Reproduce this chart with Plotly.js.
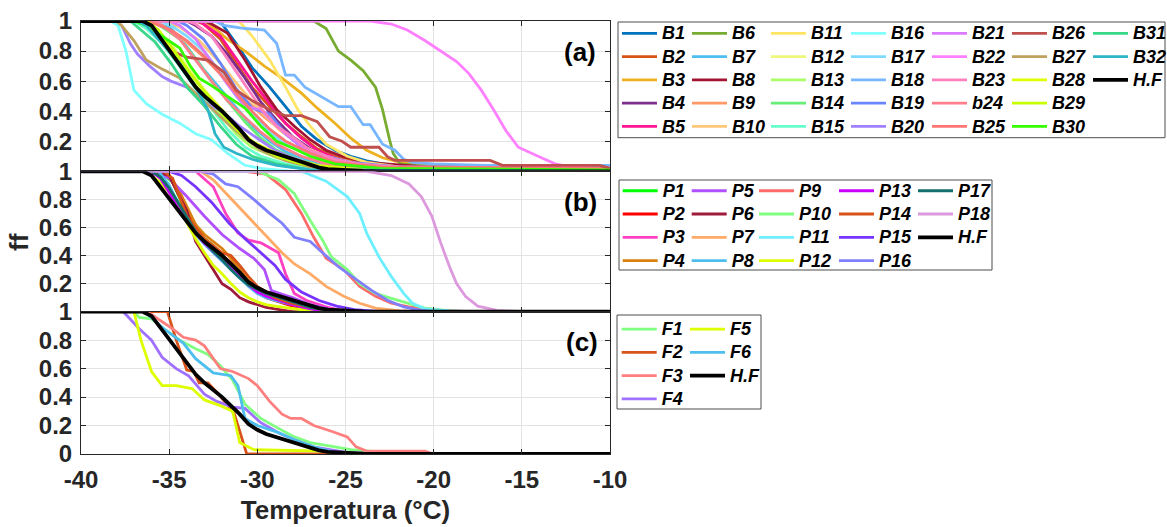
<!DOCTYPE html>
<html>
<head>
<meta charset="utf-8">
<script src="https://cdn.plot.ly/plotly-3.0.1.min.js"></script>
<style>
  html, body { margin: 0; padding: 0; background: #fff; }
  #chart { width: 1167px; height: 527px; }
</style>
</head>
<body>
<div id="chart"></div>
<script>
// Frozen fraction (ff) against temperature (°C), three stacked panels.
// Each series is a list of [temperature, ff] points.

const xTickValues = [-40, -35, -30, -25, -20, -15, -10];
const xTickLabels = ['-40', '-35', '-30', '-25', '-20', '-15', '-10'];

// Whole-set curve shown in every panel
const HF = [[-40,1],[-36.5,1],[-36,0.97],[-35.5,0.89],[-35,0.8],[-34.5,0.72],[-34,0.64],[-33.5,0.56],[-33,0.5],[-32.5,0.45],[-32,0.4],[-31.5,0.34],[-31,0.28],[-30.5,0.21],[-30,0.17],[-29.5,0.14],[-29,0.12],[-28.5,0.1],[-28,0.08],[-27.5,0.06],[-27,0.04],[-26.5,0.025],[-26,0.015],[-25,0.007],[-24,0.002],[-23,0],[-10,0]];

// Panel (a)
const B1  = [[-40,1],[-32.2,1],[-32,0.98],[-31.2,0.85],[-30.3,0.69],[-29.3,0.56],[-28.4,0.43],[-27.5,0.3],[-26.6,0.21],[-25.6,0.14],[-24.7,0.1],[-23.8,0.07],[-22.4,0.04],[-21,0.02],[-18,0.01],[-10,0.01]];
const B2  = [[-40,1],[-33.5,1],[-33.05,0.98],[-32.1,0.88],[-31.2,0.72],[-30.3,0.56],[-29.3,0.43],[-28.4,0.32],[-27.5,0.23],[-26.6,0.15],[-25.6,0.1],[-24.3,0.06],[-22.9,0.04],[-21,0.02],[-10,0.01]];
const B3  = [[-40,1],[-33,1],[-32.4,0.95],[-31.7,0.88],[-30.7,0.8],[-29.6,0.7],[-28.6,0.62],[-27.5,0.52],[-26.6,0.42],[-25.6,0.32],[-24.7,0.22],[-23.8,0.14],[-22.9,0.09],[-21.9,0.06],[-20,0.04],[-10,0.02]];
const B4  = [[-40,1],[-34,1],[-33.5,0.97],[-32.6,0.9],[-31.7,0.78],[-30.7,0.62],[-29.8,0.46],[-28.9,0.34],[-28,0.23],[-27,0.15],[-26,0.09],[-25,0.05],[-23.5,0.03],[-21,0.01],[-10,0.01]];
const B5  = [[-40,1],[-33.3,1],[-33.05,0.98],[-32.1,0.9],[-31.2,0.75],[-30.3,0.6],[-29.3,0.45],[-28.4,0.32],[-27.5,0.22],[-26.6,0.14],[-25.6,0.09],[-24.5,0.05],[-23,0.03],[-21,0.01],[-10,0.01]];
const B6  = [[-40,1],[-26.8,1],[-26.1,0.95],[-25.4,0.8],[-24.7,0.74],[-24,0.67],[-23.3,0.56],[-22.9,0.41],[-22.5,0.21],[-22.3,0.12],[-21.9,0.05],[-21,0.04],[-18,0.03],[-10,0.02]];
const B7  = [[-40,1],[-36,1],[-34.9,0.95],[-34,0.83],[-33.05,0.68],[-32.1,0.55],[-31.2,0.42],[-30.3,0.3],[-29.3,0.2],[-28.4,0.13],[-27,0.07],[-25.6,0.04],[-24,0.02],[-10,0.01]];
const B8  = [[-40,1],[-33,1],[-32.6,0.98],[-31.7,0.92],[-30.7,0.74],[-29.8,0.56],[-28.9,0.41],[-27.9,0.3],[-27,0.21],[-26.1,0.14],[-25.2,0.1],[-23.8,0.06],[-20.5,0.03],[-10,0.02]];
const B9  = [[-40,1],[-36,1],[-35.4,0.97],[-34.2,0.88],[-33.05,0.76],[-31.9,0.62],[-30.7,0.48],[-29.6,0.36],[-28.4,0.25],[-27.3,0.16],[-26.1,0.1],[-24.3,0.05],[-22,0.02],[-10,0.01]];
const B10 = [[-40,1],[-35.5,1],[-34.4,0.96],[-33.3,0.87],[-32.1,0.72],[-31,0.56],[-29.8,0.4],[-28.7,0.27],[-27.5,0.17],[-26.1,0.1],[-24.3,0.05],[-22,0.02],[-10,0.01]];
const B11 = [[-40,1],[-31.2,1],[-30.97,0.99],[-30.3,0.9],[-29.3,0.74],[-28.4,0.56],[-27.7,0.41],[-27,0.3],[-26.1,0.18],[-24.9,0.1],[-23.8,0.06],[-22,0.03],[-10,0.02]];
const B12 = [[-40,1],[-36.3,1],[-35.8,0.95],[-34.9,0.85],[-34,0.7],[-33.05,0.55],[-32.1,0.42],[-31.2,0.3],[-30.3,0.2],[-29.3,0.12],[-28,0.06],[-26,0.02],[-24,0],[-10,0]];
const B13 = [[-40,1],[-36.5,1],[-35.8,0.95],[-34.9,0.82],[-34,0.65],[-33.05,0.5],[-32.1,0.38],[-31.2,0.25],[-30.3,0.16],[-28.9,0.09],[-27.5,0.05],[-25,0.01],[-10,0]];
const B14 = [[-40,1],[-36,1],[-35.4,0.96],[-34.4,0.88],[-33.5,0.75],[-32.6,0.6],[-31.7,0.47],[-30.7,0.33],[-29.8,0.22],[-28.9,0.14],[-27.5,0.07],[-26.1,0.03],[-24,0.01],[-10,0]];
const B15 = [[-40,1],[-37,1],[-36.3,0.95],[-35.4,0.85],[-34.4,0.7],[-33.5,0.55],[-32.6,0.42],[-31.7,0.28],[-30.7,0.16],[-29.8,0.1],[-28.4,0.05],[-26,0.01],[-10,0]];
const B16 = [[-40,1],[-38.3,1],[-37.9,0.97],[-37.45,0.8],[-37,0.54],[-36.3,0.45],[-35.4,0.38],[-34.4,0.32],[-33.5,0.25],[-32.6,0.21],[-31.7,0.12],[-30.7,0.04],[-29.8,0.02],[-28,0],[-10,0]];
const B17 = [[-40,1],[-35.5,1],[-34.9,0.97],[-34,0.9],[-33.05,0.8],[-32.1,0.66],[-31.2,0.5],[-30.3,0.38],[-29.3,0.26],[-28.4,0.18],[-27,0.1],[-25.6,0.05],[-23,0.02],[-10,0.01]];
const B18 = [[-40,1],[-32.4,1],[-31.9,0.97],[-30.7,0.95],[-29.6,0.94],[-28.9,0.85],[-28.4,0.64],[-27.9,0.64],[-27.3,0.56],[-26.3,0.49],[-25.4,0.43],[-24.7,0.43],[-24,0.31],[-23.6,0.31],[-22.9,0.18],[-22.2,0.14],[-21.7,0.08],[-21.2,0.06],[-20,0.05],[-17,0.04],[-10,0.04]];
const B19 = [[-40,1],[-34.5,1],[-34,0.97],[-33.05,0.88],[-32.1,0.72],[-31.2,0.55],[-30.3,0.42],[-29.3,0.38],[-28.4,0.25],[-27.5,0.16],[-26.1,0.1],[-24.7,0.06],[-22,0.03],[-10,0.02]];
const B20 = [[-40,1],[-38,1],[-37.7,0.97],[-37.2,0.85],[-36.8,0.78],[-36.1,0.7],[-35.4,0.63],[-34.9,0.6],[-34,0.56],[-33,0.46],[-32,0.4],[-31,0.3],[-30,0.22],[-29,0.14],[-28,0.09],[-27,0.05],[-26,0.03],[-24,0.01],[-10,0]];
const B21 = [[-40,1],[-35,1],[-34.4,0.97],[-33.5,0.88],[-32.6,0.73],[-31.7,0.58],[-30.7,0.43],[-29.8,0.41],[-28.9,0.3],[-27.9,0.2],[-27,0.12],[-25.6,0.07],[-23,0.03],[-10,0.02]];
const B22 = [[-40,1],[-23.6,1],[-22.4,0.98],[-21.5,0.94],[-20.5,0.87],[-19.6,0.8],[-18.7,0.73],[-18,0.65],[-17.3,0.54],[-16.6,0.41],[-15.9,0.27],[-15.2,0.16],[-14.5,0.12],[-13.8,0.085],[-13.1,0.05],[-12.7,0.04],[-12,0.03],[-11,0.02],[-10,0.02]];
const B23 = [[-40,1],[-34,1],[-33.5,0.98],[-32.6,0.9],[-31.7,0.75],[-30.7,0.58],[-29.8,0.42],[-28.9,0.3],[-27.9,0.22],[-27,0.14],[-25.6,0.08],[-24.3,0.05],[-21,0.02],[-10,0.01]];
const b24 = [[-40,1],[-36,1],[-35.4,0.97],[-34.4,0.88],[-33.5,0.74],[-32.6,0.6],[-31.7,0.47],[-30.7,0.36],[-29.8,0.26],[-28.9,0.18],[-27.5,0.1],[-26.1,0.05],[-23,0.02],[-10,0.01]];
const B25 = [[-40,1],[-36.3,1],[-35.8,0.98],[-34.9,0.94],[-34,0.87],[-33.05,0.77],[-32.1,0.65],[-31.2,0.52],[-30.3,0.4],[-29.3,0.28],[-28.4,0.2],[-27,0.12],[-25.6,0.06],[-23,0.03],[-10,0.02]];
const B26 = [[-40,1],[-36.5,1],[-35.8,0.95],[-34.9,0.8],[-34,0.76],[-32.8,0.74],[-31.9,0.66],[-31.2,0.54],[-30.3,0.47],[-29.3,0.41],[-28.4,0.37],[-27.5,0.37],[-26.6,0.33],[-25.9,0.23],[-25.2,0.2],[-24.7,0.16],[-23.1,0.16],[-22.6,0.095],[-22.2,0.073],[-16.8,0.073],[-16.1,0.04],[-10.6,0.04],[-10,0.02]];
const B27 = [[-40,1],[-38,1],[-37.7,0.97],[-37,0.87],[-36.3,0.74],[-35.4,0.68],[-34.4,0.62],[-33.5,0.52],[-32.6,0.42],[-31.7,0.32],[-30.7,0.22],[-29.8,0.14],[-28.4,0.07],[-27,0.03],[-25,0.01],[-10,0]];
const B28 = [[-40,1],[-36.5,1],[-35.8,0.95],[-34.9,0.83],[-34,0.68],[-33.05,0.54],[-32.1,0.42],[-31.2,0.3],[-30.3,0.2],[-29.3,0.14],[-28,0.08],[-26.6,0.04],[-24,0.01],[-10,0]];
const B29 = [[-40,1],[-36.3,1],[-35.6,0.94],[-34.7,0.8],[-33.8,0.65],[-32.8,0.5],[-31.9,0.37],[-31,0.26],[-30,0.17],[-28.9,0.1],[-27.5,0.05],[-25,0.01],[-10,0]];
const B30 = [[-40,1],[-37,1],[-36.3,0.97],[-35.4,0.9],[-34.4,0.82],[-33.8,0.7],[-33.3,0.62],[-32.6,0.57],[-31.7,0.5],[-30.7,0.42],[-29.8,0.3],[-28.9,0.2],[-27.9,0.15],[-27,0.1],[-25.6,0.05],[-23,0.02],[-10,0.01]];
const B31 = [[-40,1],[-37.2,1],[-36.8,0.96],[-35.8,0.86],[-34.9,0.72],[-34,0.56],[-33.05,0.44],[-32.1,0.3],[-31.2,0.18],[-30.3,0.1],[-28.9,0.05],[-27,0.01],[-10,0]];
const B32 = [[-40,1],[-36.8,1],[-36.3,0.97],[-35.4,0.85],[-34.4,0.72],[-33.5,0.56],[-32.8,0.41],[-32.4,0.25],[-31.9,0.16],[-31.2,0.12],[-30.3,0.08],[-28.9,0.04],[-27,0.01],[-10,0]];

// Panel (b)
const P1  = [[-40,1],[-35.5,1],[-34.8,0.92],[-34.3,0.78],[-34,0.68],[-33.5,0.58],[-33,0.52],[-32.5,0.47],[-32,0.4],[-31.5,0.33],[-31,0.26],[-30.5,0.19],[-30,0.14],[-29.5,0.11],[-29,0.09],[-28,0.05],[-27,0.02],[-26,0],[-10,0]];
const P2  = [[-40,1],[-35.5,1],[-35,0.97],[-34.5,0.85],[-34,0.72],[-33.5,0.62],[-33,0.5],[-32.5,0.45],[-32,0.4],[-31.5,0.35],[-31,0.3],[-30.5,0.2],[-30,0.14],[-29.5,0.1],[-29,0.08],[-28.5,0.06],[-28,0.04],[-27,0.02],[-26,0],[-10,0]];
const P3  = [[-40,1],[-33.5,1],[-32.5,0.89],[-31.8,0.7],[-31.1,0.56],[-30.5,0.51],[-29.8,0.49],[-28.8,0.42],[-28.4,0.27],[-27.9,0.13],[-27.2,0.08],[-26.1,0.035],[-25,0],[-10,0]];
const P4  = [[-40,1],[-35.2,1],[-34.5,0.88],[-34,0.75],[-33.5,0.62],[-33,0.55],[-32.5,0.5],[-32,0.45],[-31.5,0.38],[-31,0.3],[-30.5,0.22],[-30,0.16],[-29.5,0.13],[-29,0.1],[-28,0.06],[-27,0.03],[-26,0.01],[-25,0],[-10,0]];
const P5  = [[-40,1],[-36,1],[-35,0.95],[-34,0.82],[-33,0.68],[-32,0.55],[-31,0.45],[-30.2,0.38],[-29.6,0.3],[-29.2,0.15],[-28.5,0.12],[-28,0.1],[-27,0.05],[-26,0.02],[-25,0],[-10,0]];
const P6  = [[-40,1],[-36,1],[-35,0.97],[-34.5,0.85],[-34,0.72],[-33.5,0.5],[-33,0.4],[-32.5,0.3],[-32,0.2],[-31.5,0.16],[-31,0.1],[-30.5,0.07],[-30,0.05],[-29.5,0.03],[-28.5,0.01],[-28,0],[-10,0]];
const P7  = [[-40,1],[-33.2,1],[-32.5,0.94],[-31.6,0.82],[-30.7,0.7],[-30,0.6],[-29.3,0.51],[-28.6,0.42],[-27.9,0.34],[-27,0.27],[-26.1,0.18],[-25.1,0.11],[-24.2,0.06],[-23.3,0.025],[-21.9,0.005],[-21,0],[-10,0]];
const P8  = [[-40,1],[-35.6,1],[-35,0.9],[-34.5,0.78],[-34,0.65],[-33.5,0.55],[-33,0.48],[-32.5,0.42],[-32,0.36],[-31.5,0.3],[-31,0.24],[-30.5,0.18],[-30,0.13],[-29.5,0.1],[-29,0.08],[-28,0.05],[-27,0.02],[-26,0.005],[-25,0],[-10,0]];
const P9  = [[-40,1],[-30.7,1],[-29.5,0.98],[-28.4,0.87],[-27.5,0.7],[-26.8,0.53],[-26.1,0.38],[-25.1,0.3],[-24.2,0.18],[-23.3,0.11],[-22.4,0.06],[-21.4,0.035],[-19.6,0.01],[-18,0],[-10,0]];
const P10 = [[-40,1],[-30,1],[-28.8,0.94],[-27.9,0.84],[-27,0.65],[-26.3,0.51],[-25.8,0.39],[-24.9,0.3],[-24.2,0.2],[-23.3,0.13],[-22.4,0.095],[-21.4,0.06],[-20.5,0.025],[-19.1,0.005],[-18,0],[-10,0]];
const P11 = [[-40,1],[-27.5,1],[-26.1,0.93],[-24.9,0.82],[-24.2,0.7],[-23.8,0.56],[-23.1,0.39],[-22.4,0.25],[-21.7,0.13],[-21.2,0.06],[-20.5,0.02],[-19.1,0.005],[-18,0],[-10,0]];
const P12 = [[-40,1],[-36.3,1],[-35.5,0.92],[-35,0.85],[-34.5,0.75],[-34,0.63],[-33.5,0.52],[-33,0.42],[-32.5,0.33],[-32,0.27],[-31.5,0.2],[-31,0.14],[-30.5,0.1],[-30,0.07],[-29.5,0.05],[-29,0.04],[-28,0.02],[-27,0.005],[-26,0],[-10,0]];
const P13 = [[-40,1],[-36,1],[-35.5,0.95],[-35,0.85],[-34.5,0.74],[-34,0.65],[-33.5,0.56],[-33,0.49],[-32.5,0.43],[-32,0.37],[-31.5,0.31],[-31,0.25],[-30.5,0.19],[-30,0.14],[-29.5,0.11],[-29,0.09],[-28,0.05],[-27,0.02],[-26,0],[-10,0]];
const P14 = [[-40,1],[-35.3,1],[-34.8,0.95],[-34.5,0.85],[-34,0.68],[-33.5,0.6],[-33,0.52],[-32.5,0.47],[-32,0.42],[-31.5,0.4],[-31,0.33],[-30.5,0.25],[-30,0.18],[-29.5,0.14],[-29,0.1],[-28,0.06],[-27,0.03],[-26,0.01],[-25,0],[-10,0]];
const P15 = [[-40,1],[-35,1],[-34.3,0.97],[-33.5,0.89],[-32.6,0.78],[-31.6,0.63],[-30.7,0.52],[-29.8,0.42],[-29,0.33],[-28.4,0.23],[-27.5,0.14],[-26.5,0.08],[-25.5,0.04],[-24.5,0.015],[-23,0],[-10,0]];
const P16 = [[-40,1],[-33.2,1],[-32.5,0.98],[-31.8,0.91],[-31.1,0.89],[-30.2,0.8],[-29.3,0.7],[-28.6,0.63],[-27.9,0.53],[-27,0.5],[-26.3,0.42],[-25.4,0.32],[-24.4,0.23],[-23.5,0.15],[-22.6,0.08],[-21.7,0.035],[-20.7,0.01],[-20,0],[-10,0]];
const P17 = [[-40,1],[-36,1],[-35.5,0.96],[-35,0.88],[-34.5,0.78],[-34,0.67],[-33.5,0.57],[-33,0.5],[-32.5,0.43],[-32,0.37],[-31.5,0.3],[-31,0.24],[-30.5,0.19],[-30,0.16],[-29.5,0.13],[-29,0.11],[-28.5,0.09],[-28,0.07],[-27.5,0.05],[-27,0.03],[-26.5,0.02],[-26,0.01],[-25,0],[-10,0]];
const P18 = [[-40,1],[-23.8,1],[-22.4,0.97],[-21.4,0.91],[-20.7,0.82],[-20.1,0.68],[-19.6,0.49],[-19.1,0.32],[-18.7,0.2],[-18.2,0.11],[-17.5,0.04],[-16.4,0.01],[-15,0],[-10,0]];

// Panel (c)
const F1 = [[-40,1],[-37,1],[-36.7,0.96],[-36,0.95],[-35.3,0.88],[-34.4,0.8],[-33.5,0.74],[-32.8,0.7],[-32.1,0.62],[-31.4,0.52],[-30.7,0.35],[-29.8,0.25],[-28.8,0.18],[-27.9,0.12],[-27,0.08],[-26.1,0.06],[-24.7,0.03],[-22.6,0.01],[-19.1,0],[-10,0]];
const F2 = [[-40,1],[-36.5,1],[-35.1,1],[-34.6,0.8],[-34,0.59],[-33.6,0.58],[-33.3,0.5],[-32.8,0.5],[-32.2,0.42],[-31.6,0.33],[-31.3,0.28],[-30.6,0],[-10,0]];
const F3 = [[-40,1],[-36.3,1],[-36,0.98],[-34.8,0.88],[-34.2,0.82],[-33.5,0.8],[-33,0.76],[-32.1,0.6],[-31.4,0.58],[-30.5,0.53],[-30,0.48],[-29.3,0.37],[-28.6,0.28],[-28.1,0.25],[-27.5,0.25],[-26.8,0.2],[-25.8,0.16],[-24.9,0.12],[-24.4,0.05],[-23.8,0.02],[-20.5,0.02],[-20,0],[-10,0]];
const F4 = [[-40,1],[-37.6,1],[-36.7,0.88],[-36,0.8],[-35.4,0.68],[-34.6,0.6],[-33.9,0.55],[-33,0.42],[-32.3,0.37],[-31.4,0.33],[-30.7,0.32],[-29.8,0.22],[-28.8,0.15],[-27.9,0.1],[-26.8,0.05],[-24.9,0.01],[-23,0],[-10,0]];
const F5 = [[-40,1],[-37,1],[-36.6,0.8],[-36,0.58],[-35.4,0.48],[-34.6,0.48],[-33.7,0.46],[-33,0.38],[-32.1,0.34],[-31.4,0.3],[-31,0.08],[-30.2,0.03],[-26.1,0.02],[-25.4,0],[-10,0]];
const F6 = [[-40,1],[-36.4,1],[-35.3,0.88],[-34.2,0.78],[-33.5,0.67],[-32.5,0.57],[-31.5,0.55],[-31.1,0.48],[-30.7,0.25],[-30,0.2],[-28.8,0.15],[-27.9,0.1],[-26.8,0.05],[-25.6,0.01],[-24,0],[-10,0]];

// Series names per panel, arranged by legend column
const namesA = [['B1','B2','B3','B4','B5'],['B6','B7','B8','B9','B10'],['B11','B12','B13','B14','B15'],
                ['B16','B17','B18','B19','B20'],['B21','B22','B23','b24','B25'],['B26','B27','B28','B29','B30'],['B31','B32','H.F']];
const namesB = [['P1','P2','P3','P4'],['P5','P6','P7','P8'],['P9','P10','P11','P12'],['P13','P14','P15','P16'],['P17','P18','H.F']];
const namesC = [['F1','F2','F3','F4'],['F5','F6','H.F']];

const seriesData = {
  B1,B2,B3,B4,B5,B6,B7,B8,B9,B10,B11,B12,B13,B14,B15,B16,B17,B18,B19,B20,B21,B22,B23,b24,B25,B26,B27,B28,B29,B30,B31,B32,
  P1,P2,P3,P4,P5,P6,P7,P8,P9,P10,P11,P12,P13,P14,P15,P16,P17,P18,
  F1,F2,F3,F4,F5,F6, 'H.F': HF
};

// ---- styling ----
const colorsA = {
  B1:'#0072BD', B2:'#D95319', B3:'#EDB120', B4:'#7E2F8E', B5:'#FF1493',
  B6:'#77AC30', B7:'#4DBEEE', B8:'#A2142F', B9:'#FF9966', B10:'#FFC878',
  B11:'#FFE566', B12:'#EEF77C', B13:'#AAFF66', B14:'#66EE77', B15:'#66FFCC',
  B16:'#80FFFF', B17:'#80DAFF', B18:'#78B6FF', B19:'#6A86FF', B20:'#A080FF',
  B21:'#DA7BFF', B22:'#FF80FF', B23:'#FF80BF', b24:'#FF7F8C', B25:'#FF7675',
  B26:'#C0504D', B27:'#BFA15F', B28:'#DDFF00', B29:'#C5FF00', B30:'#33FF00',
  B31:'#39D78A', B32:'#2DB5C8', 'H.F':'#000000'
};
const colorsB = {
  P1:'#00FF00', P2:'#FF0000', P3:'#FF40C0', P4:'#D9820F', P5:'#B050FF', P6:'#A01B3A',
  P7:'#FFAA66', P8:'#4DBEEE', P9:'#FF6B6B', P10:'#80FF80', P11:'#6EEFFF', P12:'#DDFF00',
  P13:'#CC00FF', P14:'#D95319', P15:'#7733FF', P16:'#8080FF', P17:'#136F6C', P18:'#DD99DD',
  'H.F':'#000000'
};
const colorsC = { F1:'#80FF80', F2:'#D95319', F3:'#FF7F7F', F4:'#A070FF', F5:'#DDFF00', F6:'#4DBEEE', 'H.F':'#000000' };

const FONT = 'Liberation Sans, Arial, Helvetica, sans-serif';
const W = 1167, H = 527;
const M = { l: 81, r: 557, t: 21, b: 73 };
const plotW = W - M.l - M.r, plotH = H - M.t - M.b;
const px2x = px => (px - M.l) / plotW;
const py2y = py => (H - M.b - py) / plotH;

// panel domains (pixel rows of the three stacked axes)
const domA = [py2y(171.3), 1];
const domB = [py2y(311.7), py2y(171.3)];
const domC = [0, py2y(311.7)];

const traces = [];
const legends = {};
let legendIndex = 0;

// legend rows are spaced by the legend font; entry text itself is drawn a bit larger
const LEGEND_ROW_FONT = 15.6;
const LEGEND_TEXT_PX = 18;

function addPanel(columns, colors, xa, ya, colLefts, topPx) {
  columns.forEach((col, ci) => {
    legendIndex += 1;
    const key = legendIndex === 1 ? 'legend' : 'legend' + legendIndex;
    legends[key] = {
      x: px2x(colLefts[ci]), y: py2y(topPx), xanchor: 'left', yanchor: 'top',
      orientation: 'v', bgcolor: 'rgba(0,0,0,0)', borderwidth: 0,
      tracegroupgap: 0, traceorder: 'normal', itemwidth: 35,
      font: { family: FONT, size: LEGEND_ROW_FONT, color: '#000', weight: 'bold', style: 'italic' }
    };
    col.forEach(name => {
      const pts = seriesData[name];
      const isHF = name === 'H.F';
      traces.push({
        type: 'scatter', mode: 'lines',
        name: '<span style="font-size:' + LEGEND_TEXT_PX + 'px">' + name + '</span>',
        x: pts.map(p => p[0]), y: pts.map(p => p[1]),
        xaxis: xa, yaxis: ya, legend: key,
        line: { color: colors[name], width: isHF ? 3.8 : 2.8 },
        hoverinfo: 'skip'
      });
    });
  });
}

addPanel(namesA, colorsA, 'x', 'y', [617, 687, 766, 846, 927, 1007, 1088], 16.7);
addPanel(namesB, colorsB, 'x2', 'y2', [617.7, 686.7, 754, 834, 913], 174.1);
addPanel(namesC, colorsC, 'x3', 'y3', [616.7, 685], 312.4);

const axisBase = {
  range: [-40, -10], tickmode: 'array', tickvals: xTickValues, ticktext: xTickLabels,
  showline: true, linecolor: '#262626', linewidth: 1, mirror: 'ticks',
  ticks: 'inside', ticklen: 5, tickcolor: '#262626',
  showgrid: true, gridcolor: '#e3e3e3', gridwidth: 1, zeroline: false, fixedrange: true,
  tickfont: { family: FONT, size: 24, color: '#262626', weight: 'bold' }
};
const yBase = Object.assign({}, axisBase, { range: [0, 1], ticklabelstandoff: 3 });
delete yBase.ticktext;

const layout = {
  width: W, height: H,
  margin: Object.assign({ autoexpand: false }, M),
  paper_bgcolor: '#ffffff', plot_bgcolor: '#ffffff',
  showlegend: true,
  xaxis:  Object.assign({}, axisBase, { anchor: 'y',  domain: [0, 1], showticklabels: false }),
  xaxis2: Object.assign({}, axisBase, { anchor: 'y2', domain: [0, 1], showticklabels: false }),
  xaxis3: Object.assign({}, axisBase, { anchor: 'y3', domain: [0, 1], ticklabelstandoff: 4,
    title: { text: 'Temperatura (°C)', standoff: 9,
             font: { family: FONT, size: 26, color: '#262626', weight: 'bold' } } }),
  yaxis:  Object.assign({}, yBase, { anchor: 'x',  domain: domA, tickvals: [0.2, 0.4, 0.6, 0.8, 1] }),
  yaxis2: Object.assign({}, yBase, { anchor: 'x2', domain: domB, tickvals: [0.2, 0.4, 0.6, 0.8, 1] }),
  yaxis3: Object.assign({}, yBase, { anchor: 'x3', domain: domC, tickvals: [0, 0.2, 0.4, 0.6, 0.8, 1] }),
  annotations: [
    { text: '(a)', xref: 'paper', yref: 'paper', x: px2x(580), y: py2y(52), showarrow: false,
      xanchor: 'center', yanchor: 'middle', font: { family: FONT, size: 26, color: '#000', weight: 'bold' } },
    { text: '(b)', xref: 'paper', yref: 'paper', x: px2x(580), y: py2y(202), showarrow: false,
      xanchor: 'center', yanchor: 'middle', font: { family: FONT, size: 26, color: '#000', weight: 'bold' } },
    { text: '(c)', xref: 'paper', yref: 'paper', x: px2x(582), y: py2y(342), showarrow: false,
      xanchor: 'center', yanchor: 'middle', font: { family: FONT, size: 26, color: '#000', weight: 'bold' } },
    { text: 'ff', xref: 'paper', yref: 'paper', x: px2x(19), y: py2y(242), showarrow: false, textangle: -90,
      xanchor: 'center', yanchor: 'middle', font: { family: FONT, size: 26, color: '#262626', weight: 'bold' } }
  ],
  shapes: [
    { type: 'rect', xref: 'paper', yref: 'paper', x0: px2x(618), x1: px2x(1165), y0: py2y(137.7), y1: py2y(22),
      line: { color: '#4d4d4d', width: 1 }, fillcolor: 'rgba(0,0,0,0)' },
    { type: 'rect', xref: 'paper', yref: 'paper', x0: px2x(619), x1: px2x(992), y0: py2y(270), y1: py2y(180),
      line: { color: '#4d4d4d', width: 1 }, fillcolor: 'rgba(0,0,0,0)' },
    { type: 'rect', xref: 'paper', yref: 'paper', x0: px2x(617), x1: px2x(761), y0: py2y(409), y1: py2y(315),
      line: { color: '#4d4d4d', width: 1 }, fillcolor: 'rgba(0,0,0,0)' }
  ]
};
Object.assign(layout, legends);

Plotly.newPlot('chart', traces, layout, { displayModeBar: false, staticPlot: true });
</script>
</body>
</html>
